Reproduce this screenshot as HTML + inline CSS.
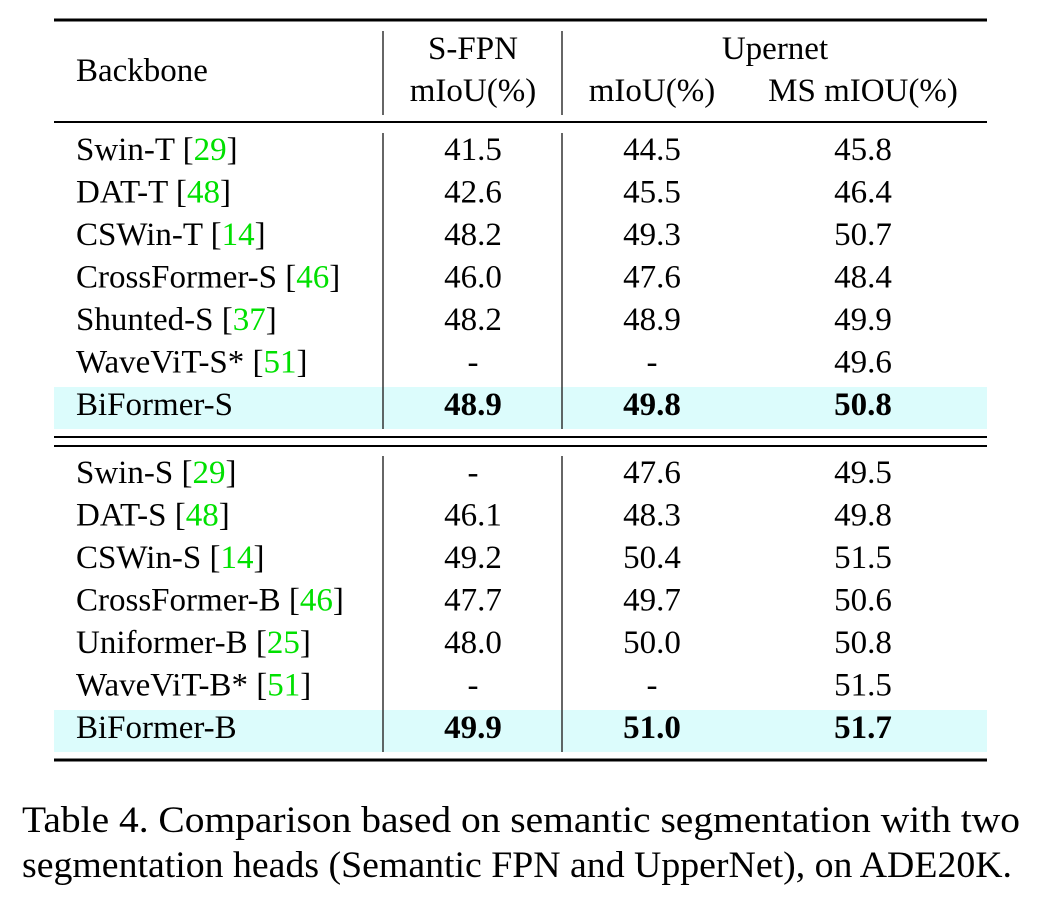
<!DOCTYPE html>
<html><head><meta charset="utf-8"><style>
html,body{margin:0;padding:0;background:#fff;}
svg{display:block;}
svg text{font-family:"Liberation Serif","Times New Roman",Times,"Tinos","DejaVu Serif",serif;font-size:33px;fill:#000;}
.g{fill:#00e000;}
.b{font-weight:bold;}
</style></head><body>
<svg width="1038" height="900" viewBox="0 0 1038 900" font-family="Liberation Serif, Times New Roman, DejaVu Serif, serif">
<rect x="54" y="387" width="933" height="42" fill="#dcfcfc"/>
<rect x="54" y="710" width="933" height="42" fill="#dcfcfc"/>
<g stroke="#000">
<line x1="54" y1="20" x2="987" y2="20" stroke-width="3"/>
<line x1="54" y1="122" x2="987" y2="122" stroke-width="2"/>
<line x1="54" y1="437" x2="987" y2="437" stroke-width="2"/>
<line x1="54" y1="446" x2="987" y2="446" stroke-width="2"/>
<line x1="54" y1="760" x2="987" y2="760" stroke-width="3"/>
</g>
<g stroke="#333" stroke-width="1.5">
<line x1="383" y1="31" x2="383" y2="115"/><line x1="562" y1="31" x2="562" y2="115"/>
<line x1="383" y1="133" x2="383" y2="429"/><line x1="562" y1="133" x2="562" y2="429"/>
<line x1="383" y1="456" x2="383" y2="752"/><line x1="562" y1="456" x2="562" y2="752"/>
</g>
<text x="76" y="81">Backbone</text>
<text x="473" y="59" text-anchor="middle">S-FPN</text>
<text x="473" y="101" text-anchor="middle">mIoU(%)</text>
<text x="775" y="59" text-anchor="middle">Upernet</text>
<text x="652" y="101" text-anchor="middle">mIoU(%)</text>
<text x="863" y="101" text-anchor="middle">MS mIOU(%)</text>

<g>
<text x="76" y="160">Swin-T [<tspan class="g">29</tspan>]</text>
<text x="76" y="202.5">DAT-T [<tspan class="g">48</tspan>]</text>
<text x="76" y="245">CSWin-T [<tspan class="g">14</tspan>]</text>
<text x="76" y="287.5">CrossFormer-S [<tspan class="g">46</tspan>]</text>
<text x="76" y="330">Shunted-S [<tspan class="g">37</tspan>]</text>
<text x="76" y="372.5">WaveViT-S* [<tspan class="g">51</tspan>]</text>
<text x="76" y="415">BiFormer-S</text>
</g>
<g text-anchor="middle">
<text x="473" y="160">41.5</text><text x="652" y="160">44.5</text><text x="863" y="160">45.8</text>
<text x="473" y="202.5">42.6</text><text x="652" y="202.5">45.5</text><text x="863" y="202.5">46.4</text>
<text x="473" y="245">48.2</text><text x="652" y="245">49.3</text><text x="863" y="245">50.7</text>
<text x="473" y="287.5">46.0</text><text x="652" y="287.5">47.6</text><text x="863" y="287.5">48.4</text>
<text x="473" y="330">48.2</text><text x="652" y="330">48.9</text><text x="863" y="330">49.9</text>
<text x="473" y="372.5">-</text><text x="652" y="372.5">-</text><text x="863" y="372.5">49.6</text>
<text x="473" y="415" class="b">48.9</text><text x="652" y="415" class="b">49.8</text><text x="863" y="415" class="b">50.8</text>
</g>

<g>
<text x="76" y="483">Swin-S [<tspan class="g">29</tspan>]</text>
<text x="76" y="525.5">DAT-S [<tspan class="g">48</tspan>]</text>
<text x="76" y="568">CSWin-S [<tspan class="g">14</tspan>]</text>
<text x="76" y="610.5">CrossFormer-B [<tspan class="g">46</tspan>]</text>
<text x="76" y="653">Uniformer-B [<tspan class="g">25</tspan>]</text>
<text x="76" y="695.5">WaveViT-B* [<tspan class="g">51</tspan>]</text>
<text x="76" y="738">BiFormer-B</text>
</g>
<g text-anchor="middle">
<text x="473" y="483">-</text><text x="652" y="483">47.6</text><text x="863" y="483">49.5</text>
<text x="473" y="525.5">46.1</text><text x="652" y="525.5">48.3</text><text x="863" y="525.5">49.8</text>
<text x="473" y="568">49.2</text><text x="652" y="568">50.4</text><text x="863" y="568">51.5</text>
<text x="473" y="610.5">47.7</text><text x="652" y="610.5">49.7</text><text x="863" y="610.5">50.6</text>
<text x="473" y="653">48.0</text><text x="652" y="653">50.0</text><text x="863" y="653">50.8</text>
<text x="473" y="695.5">-</text><text x="652" y="695.5">-</text><text x="863" y="695.5">51.5</text>
<text x="473" y="738" class="b">49.9</text><text x="652" y="738" class="b">51.0</text><text x="863" y="738" class="b">51.7</text>
</g>

<text x="22" y="832" style="font-size:37px" textLength="998" lengthAdjust="spacingAndGlyphs">Table 4.  Comparison based on semantic segmentation with two</text>
<text x="22" y="877" style="font-size:37px" textLength="990" lengthAdjust="spacingAndGlyphs">segmentation heads (Semantic FPN and UpperNet), on ADE20K.</text>
</svg>
</body></html>
